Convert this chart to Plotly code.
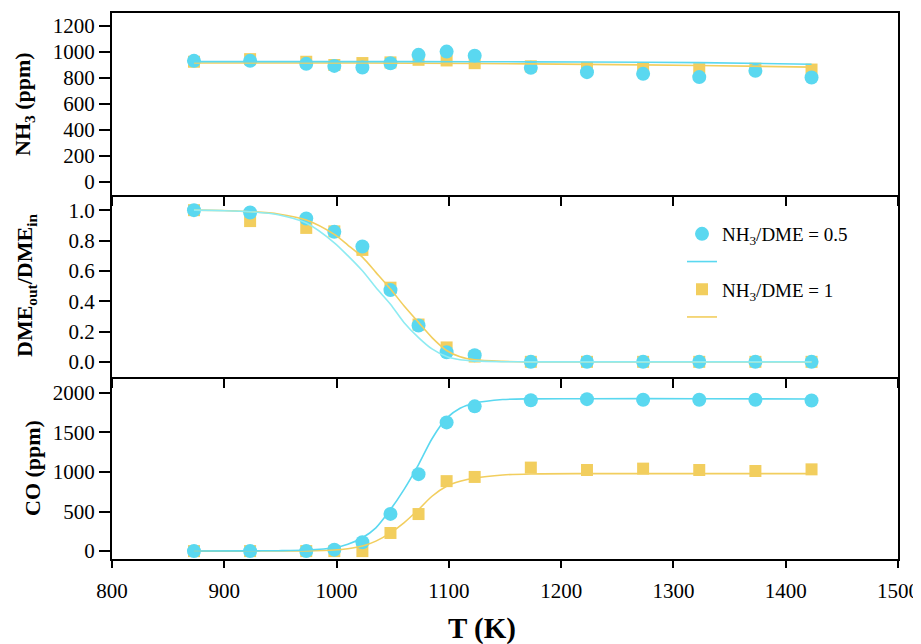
import plotly.graph_objects as go

# ---------------- data ----------------
T = [873, 923, 973, 998, 1023, 1048, 1073, 1098, 1123, 1173, 1223, 1273, 1323, 1373, 1423]

nh3_05 = [932, 932, 909, 893, 881, 914, 978, 1003, 972, 878, 845, 832, 807, 855, 804]
nh3_1 = [925, 945, 925, 900, 915, 920, 940, 935, 914, 890, 878, 870, 868, 872, 865]

dme_05 = [1.0, 0.985, 0.945, 0.857, 0.760, 0.473, 0.240, 0.063, 0.044, 0, 0, 0, 0, 0, 0]
dme_1 = [1.0, 0.928, 0.883, 0.86, 0.738, 0.489, 0.246, 0.095, 0.035, 0, 0, 0, 0, 0, 0]

co_05 = [0, 0, 0, 18, 112, 470, 972, 1626, 1829, 1907, 1920, 1912, 1912, 1912, 1903]
co_1 = [0, 0, 0, 0, 0, 229, 468, 884, 937, 1055, 1025, 1042, 1025, 1012, 1033]

# fitted curves
fitT_nh3 = [873, 1023, 1123, 1223, 1323, 1423]
nh3_fit_05 = [926, 926, 925, 923, 918, 906]
nh3_fit_1 = [915, 915, 912, 905, 896, 884]

fitT_dme = [873, 898, 923, 948, 973, 998, 1010, 1023, 1035, 1048, 1060, 1073, 1085,
            1098, 1110, 1123, 1148, 1173, 1223, 1323, 1423]
dme_fit_05 = [1.0, 0.997, 0.99, 0.97, 0.915, 0.785, 0.70, 0.60, 0.49, 0.38, 0.26, 0.16,
              0.085, 0.035, 0.014, 0.006, 0.001, 0, 0, 0, 0]
dme_fit_1 = [1.0, 0.998, 0.99, 0.975, 0.935, 0.84, 0.77, 0.69, 0.59, 0.48, 0.37, 0.26,
             0.16, 0.075, 0.033, 0.013, 0.003, 0, 0, 0, 0]

fitT_co = [873, 923, 948, 973, 998, 1010, 1023, 1035, 1048, 1060, 1073, 1085, 1098,
           1110, 1123, 1148, 1173, 1223, 1323, 1423]
co_fit_05 = [2, 3, 5, 13, 42, 85, 168, 294, 525, 777, 1093, 1420, 1680, 1806, 1869,
             1915, 1924, 1926, 1926, 1922]
co_fit_1 = [0, 0, 1, 3, 13, 30, 63, 126, 231, 357, 525, 693, 819, 882, 924, 962, 975,
            979, 979, 979]

name_05 = "NH<sub>3</sub>/DME = 0.5"
name_1 = "NH<sub>3</sub>/DME = 1"

# ---------------- style ----------------
CYAN = "#5AD8F0"
CYAN_LIGHT = "#8EEBF2"
YELLOW = "#F2CE5E"
FONT = "Liberation Serif, Times New Roman, serif"

fig = go.Figure()

panels = [
    ("x", "y", nh3_05, nh3_1, fitT_nh3, nh3_fit_05, nh3_fit_1, CYAN),
    ("x2", "y2", dme_05, dme_1, fitT_dme, dme_fit_05, dme_fit_1, CYAN_LIGHT),
    ("x3", "y3", co_05, co_1, fitT_co, co_fit_05, co_fit_1, CYAN),
]

for i, (xa, ya, d05, d1, fT, f05, f1, ccol) in enumerate(panels):
    legend_panel = (i == 2)
    fig.add_trace(go.Scatter(
        x=T, y=d1, mode="markers", xaxis=xa, yaxis=ya,
        marker=dict(symbol="square", size=12, color=YELLOW),
        name=name_1, showlegend=legend_panel, legendrank=3))
    fig.add_trace(go.Scatter(
        x=T, y=d05, mode="markers", xaxis=xa, yaxis=ya,
        marker=dict(symbol="circle", size=14, color=CYAN),
        name=name_05, showlegend=legend_panel, legendrank=1))
    fig.add_trace(go.Scatter(
        x=fT, y=f1, mode="lines", xaxis=xa, yaxis=ya,
        line=dict(color=YELLOW, width=1.6, shape="spline", smoothing=0.8),
        name=" ", showlegend=legend_panel, legendrank=4))
    fig.add_trace(go.Scatter(
        x=fT, y=f05, mode="lines", xaxis=xa, yaxis=ya,
        line=dict(color=ccol, width=1.6, shape="spline", smoothing=0.8),
        name=" ", showlegend=legend_panel, legendrank=2))

axis_common = dict(
    showline=True, linecolor="black", linewidth=2, mirror=True,
    ticks="outside", tickcolor="black", tickwidth=2,
    showgrid=False, zeroline=False, automargin=False,
    tickfont=dict(family=FONT, size=21, color="black"),
)

xcommon = dict(axis_common, range=[800, 1500], dtick=100, tick0=800, ticklen=9)

# page has an 8px body margin; figure is sized so it fits the 921x644 window
fig.update_layout(
    template="none",
    width=913, height=636,
    margin=dict(l=104, r=23, t=5, b=85, autoexpand=False),
    paper_bgcolor="white",
    plot_bgcolor="rgba(0,0,0,0)",
    font=dict(family=FONT, color="black"),
    xaxis=dict(xcommon, anchor="y", domain=[0, 1], showticklabels=False),
    xaxis2=dict(xcommon, anchor="y2", domain=[0, 1], matches="x", mirror=False,
                showticklabels=False),
    xaxis3=dict(xcommon, anchor="y3", domain=[0, 1], matches="x", mirror=False,
                ticklen=7, ticklabelstandoff=5),
    yaxis=dict(axis_common, anchor="x", domain=[2 / 3, 1], range=[-100, 1300],
               tickvals=[0, 200, 400, 600, 800, 1000, 1200], ticklen=11),
    yaxis2=dict(axis_common, anchor="x2", domain=[1 / 3, 2 / 3], range=[-0.1, 1.1],
                tickvals=[0, 0.2, 0.4, 0.6, 0.8, 1.0], tickformat=".1f", ticklen=11),
    yaxis3=dict(axis_common, anchor="x3", domain=[0, 1 / 3], range=[-100, 2200],
                tickvals=[0, 500, 1000, 1500, 2000], ticklen=11),
    legend=dict(
        x=(682 - 112) / 786, y=(559 - 215) / 546, xanchor="left", yanchor="top",
        bgcolor="rgba(0,0,0,0)", borderwidth=0,
        font=dict(family=FONT, size=19, color="black"),
        traceorder="normal",
    ),
    showlegend=True,
)

def px_x(p):
    return (p - 112) / 786

def px_y(p):
    return (559 - p) / 546

title_font = dict(family=FONT, size=22, color="black")
fig.add_annotation(text="<b>NH<sub>3</sub> (ppm)</b>", xref="paper", yref="paper",
                   x=px_x(24), y=px_y(104), textangle=-90, showarrow=False,
                   xanchor="center", yanchor="middle", font=title_font)
fig.add_annotation(text="<b>DME<sub>out</sub>/DME<sub>in</sub></b>", xref="paper", yref="paper",
                   x=px_x(26), y=px_y(286), textangle=-90, showarrow=False,
                   xanchor="center", yanchor="middle", font=title_font)
fig.add_annotation(text="<b>CO (ppm)</b>", xref="paper", yref="paper",
                   x=px_x(32), y=px_y(468), textangle=-90, showarrow=False,
                   xanchor="center", yanchor="middle", font=title_font)
fig.add_annotation(text="<b>T (K)</b>", xref="paper", yref="paper",
                   x=px_x(482), y=px_y(628), showarrow=False,
                   xanchor="center", yanchor="middle",
                   font=dict(family=FONT, size=29, color="black"))

fig.write_html("out.html")
